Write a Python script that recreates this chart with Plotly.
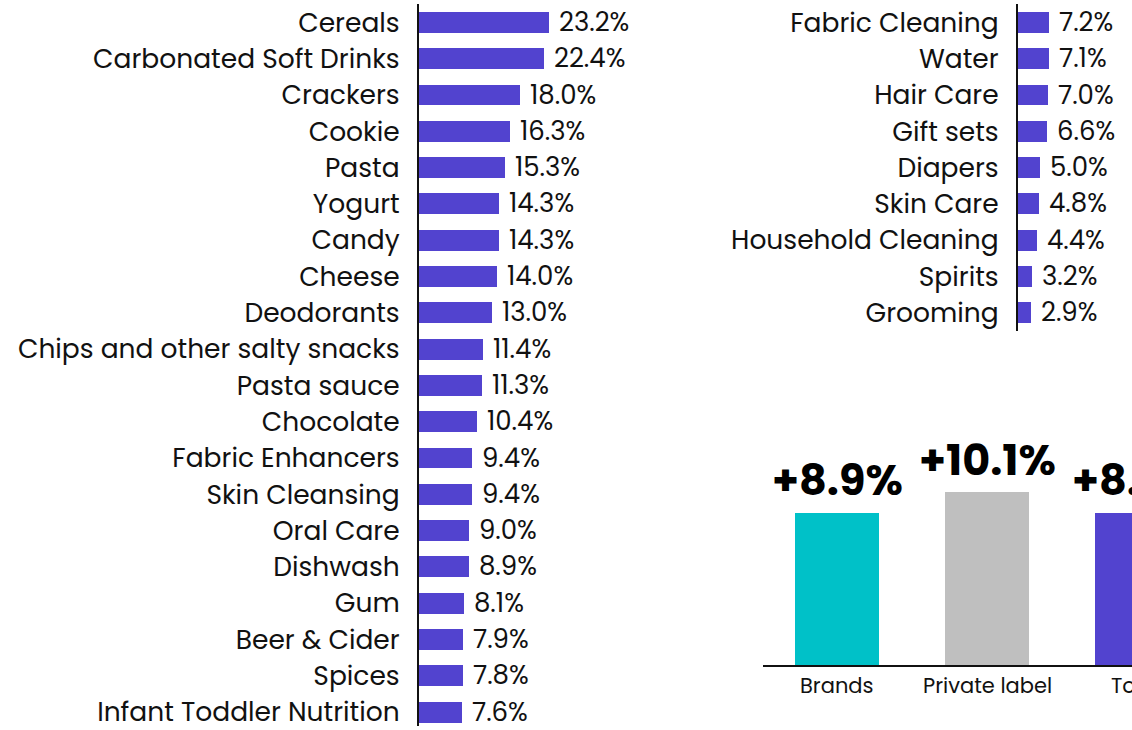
import plotly.graph_objects as go

W, H = 1132, 730

# Left panel: growth by category
left_cats = ["Cereals", "Carbonated Soft Drinks", "Crackers", "Cookie", "Pasta",
             "Yogurt", "Candy", "Cheese", "Deodorants", "Chips and other salty snacks",
             "Pasta sauce", "Chocolate", "Fabric Enhancers", "Skin Cleansing",
             "Oral Care", "Dishwash", "Gum", "Beer & Cider", "Spices",
             "Infant Toddler Nutrition"]
left_vals = [23.2, 22.4, 18.0, 16.3, 15.3, 14.3, 14.3, 14.0, 13.0, 11.4,
             11.3, 10.4, 9.4, 9.4, 9.0, 8.9, 8.1, 7.9, 7.8, 7.6]

# Right-top panel
right_cats = ["Fabric Cleaning", "Water", "Hair Care", "Gift sets", "Diapers",
              "Skin Care", "Household Cleaning", "Spirits", "Grooming"]
right_vals = [7.2, 7.1, 7.0, 6.6, 5.0, 4.8, 4.4, 3.2, 2.9]

# Bottom-right panel: summary
sum_cats = ["Brands", "Private label", "Total"]
sum_vals = [8.9, 10.1, 8.9]
sum_colors = ["#00C1C8", "#BFBFBF", "#5243CF"]

BAR = "#5243CF"
FONT = "Poppins, Inter, sans-serif"
INK = "#111111"
NBSP = "\u00a0"

def px_x(p):
    return p / W

def px_y(p):
    return 1 - p / H

fig = go.Figure()

ROW = 36.5      # pixel pitch between rows
FIRST = 22.5    # pixel centre of the first row

# ---- left panel ----
fig.add_trace(go.Bar(
    x=left_vals, y=list(range(len(left_cats))), orientation="h",
    marker=dict(color=BAR, line=dict(width=0)), width=0.575,
    text=[f"{NBSP}{v:.1f}%" for v in left_vals], textposition="outside",
    textfont=dict(size=26, color=INK), constraintext="none", cliponaxis=False,
    xaxis="x", yaxis="y", hoverinfo="skip"))

x0_l = 419
fig.update_layout(
    xaxis=dict(domain=[px_x(x0_l), px_x(700)], range=[0, (700 - x0_l) / 5.6],
               visible=False, fixedrange=True),
    yaxis=dict(domain=[px_y(730), px_y(4)],
               range=[(730 - FIRST) / ROW, (4 - FIRST) / ROW],
               tickvals=list(range(len(left_cats))), ticktext=left_cats,
               showline=True, linecolor=INK, linewidth=2, showgrid=False,
               zeroline=False, ticks="", ticklabelstandoff=12,
               ticklabeloverflow="allow",
               tickfont=dict(size=26.5, color=INK), anchor="x"),
)

# ---- right-top panel ----
fig.add_trace(go.Bar(
    x=right_vals, y=list(range(len(right_cats))), orientation="h",
    marker=dict(color=BAR, line=dict(width=0)), width=0.575,
    text=[f"{NBSP}{v:.1f}%" for v in right_vals], textposition="outside",
    textfont=dict(size=26, color=INK), constraintext="none", cliponaxis=False,
    xaxis="x2", yaxis="y2", hoverinfo="skip"))

x0_r = 1018
fig.update_layout(
    xaxis2=dict(domain=[px_x(x0_r), 1], range=[0, (W - x0_r) / 4.35],
                visible=False, fixedrange=True, anchor="y2"),
    yaxis2=dict(domain=[px_y(333), px_y(4)],
                range=[(333 - FIRST) / ROW, (4 - FIRST) / ROW],
                tickvals=list(range(len(right_cats))), ticktext=right_cats,
                showline=True, linecolor=INK, linewidth=2, showgrid=False,
                zeroline=False, ticks="", ticklabelstandoff=12,
                ticklabeloverflow="allow",
                tickfont=dict(size=26.5, color=INK), anchor="x2"),
)

# ---- bottom-right summary ----
fig.add_trace(go.Bar(
    x=list(range(len(sum_cats))), y=sum_vals,
    marker=dict(color=sum_colors, line=dict(width=0)), width=0.56,
    cliponaxis=False, xaxis="x3", yaxis="y3", hoverinfo="skip"))

base = 669
x3_dom = [px_x(763), 1.0]
x3_rng = [(763 - 837) / 150, (W - 837) / 150]
fig.update_layout(
    xaxis3=dict(domain=x3_dom, range=x3_rng, showticklabels=False,
                showline=True, linecolor=INK, linewidth=2, showgrid=False,
                zeroline=False, ticks="", anchor="y3"),
    yaxis3=dict(domain=[px_y(base), px_y(420)], range=[0, (base - 420) / 17.3],
                visible=False, anchor="x3"),
)

def x3_to_paper(v):
    # map a category position on the summary axis to paper coordinates,
    # so labels of the bar at the right edge are still drawn
    frac = (v - x3_rng[0]) / (x3_rng[1] - x3_rng[0])
    return x3_dom[0] + frac * (x3_dom[1] - x3_dom[0])

for i, (cat, val) in enumerate(zip(sum_cats, sum_vals)):
    xp = x3_to_paper(i)
    fig.add_annotation(x=xp, xref="paper", y=val, yref="y3",
                       text=f"<b>+{val:.1f}%</b>", showarrow=False,
                       xanchor="center", yanchor="bottom", yshift=0,
                       font=dict(size=43, color="#000", family=FONT))
    fig.add_annotation(x=xp, xref="paper", y=0, yref="y3",
                       text=cat, showarrow=False,
                       xanchor="center", yanchor="middle", yshift=-20,
                       font=dict(size=21, color=INK, family=FONT))

fig.update_layout(
    width=W, height=H, margin=dict(l=0, r=0, t=0, b=0),
    paper_bgcolor="white", plot_bgcolor="white",
    font=dict(family=FONT, color=INK), showlegend=False, bargap=0,
)

fig.write_html("out.html", config=dict(displayModeBar=False))
